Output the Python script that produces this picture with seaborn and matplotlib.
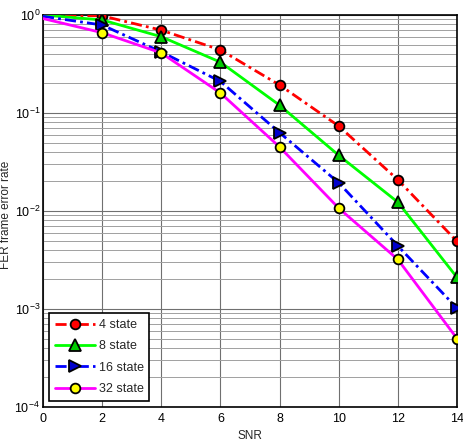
import numpy as np
import pandas as pd
import matplotlib
matplotlib.use("Agg")
import matplotlib.pyplot as plt
import seaborn as sns
from matplotlib.ticker import LogLocator, NullFormatter, FixedLocator

snr = [0, 2, 4, 6, 8, 10, 12, 14]
fer_4 = [1.0, 0.98, 0.70, 0.44, 0.193, 0.0736, 0.0208, 0.0049]
fer_8 = [1.0, 0.89, 0.60, 0.33, 0.12, 0.037, 0.0123, 0.0021]
fer_16 = [0.97, 0.79, 0.42, 0.21, 0.063, 0.0194, 0.0044, 0.00102]
fer_32 = [0.92, 0.66, 0.41, 0.16, 0.045, 0.0107, 0.0032, 0.0005]
labels = ["4 state", "8 state", "16 state", "32 state"]
xticks = [0, 2, 4, 6, 8, 10, 12, 14]

sns.set_style("white")
plt.rcParams['font.family'] = ['Liberation Sans', 'DejaVu Sans']
plt.rcParams['mathtext.fontset'] = 'custom'
plt.rcParams['mathtext.rm'] = 'Liberation Sans'
plt.rcParams['mathtext.it'] = 'Liberation Sans'

fig = plt.figure(figsize=(4.64, 4.48), dpi=100)
ax = fig.add_axes([43/464, 1-407/448, (457-43)/464, (407-15)/448])

styles = [
    dict(color="#ff0000", ls=(0, (4, 1.5, 1, 1.5)), marker="o", mfc="#ff0000", ms=7),
    dict(color="#00ff00", ls="-", marker="^", mfc="#00cc00", ms=8),
    dict(color="#0000ff", ls=(0, (4, 1.5, 1, 1.5)), marker=">", mfc="#0000cc", ms=8),
    dict(color="#ff00ff", ls="-", marker="o", mfc="#ffff00", ms=7),
]
series = [fer_4, fer_8, fer_16, fer_32]
df = pd.DataFrame({"SNR": snr * 4,
                   "FER": sum(series, []),
                   "state": sum([[l] * len(snr) for l in labels], [])})

for lab, st in zip(labels, styles):
    sub = df[df["state"] == lab]
    sns.lineplot(data=sub, x="SNR", y="FER", ax=ax, color=st["color"],
                 linestyle=st["ls"], linewidth=2, marker=st["marker"],
                 markersize=st["ms"], markerfacecolor=st["mfc"],
                 markeredgecolor="black", markeredgewidth=1.3,
                 markevery=list(range(1, len(snr))), label=lab, zorder=3)

ax.set_yscale("log")
ax.set_xlim(0, 14)
ax.set_ylim(1e-4, 1)
ax.xaxis.set_major_locator(FixedLocator(xticks))
ax.yaxis.set_major_locator(LogLocator(base=10, numticks=10))
ax.yaxis.set_minor_locator(LogLocator(base=10, subs=np.arange(2, 10), numticks=10))
ax.yaxis.set_minor_formatter(NullFormatter())
ax.grid(True, which="major", color="#707070", lw=0.8)
ax.grid(True, which="minor", axis="y", color="#a0a0a0", lw=0.7)
ax.set_axisbelow(True)
for s in ax.spines.values():
    s.set_color("black")
    s.set_linewidth(1.2)
ax.tick_params(axis="both", which="major", labelsize=9, direction="in", length=3,
               colors="black", pad=2)
ax.tick_params(axis="x", which="major", pad=4)
ax.tick_params(axis="y", which="minor", length=0)
ax.set_xlabel("SNR", fontsize=8.5)
ax.xaxis.set_label_coords(0.5, -0.058)
ax.set_ylabel("FER frame error rate", fontsize=8.5)
ax.yaxis.set_label_coords(-0.074, 0.49)

leg = ax.legend(loc="lower left", fontsize=9, frameon=True, fancybox=False,
                edgecolor="black", framealpha=1, handlelength=3.2,
                borderaxespad=0.5, labelspacing=0.75, handletextpad=0.3,
                borderpad=0.45)
leg.get_frame().set_linewidth(1.2)

fig.savefig("out.png", dpi=100)
